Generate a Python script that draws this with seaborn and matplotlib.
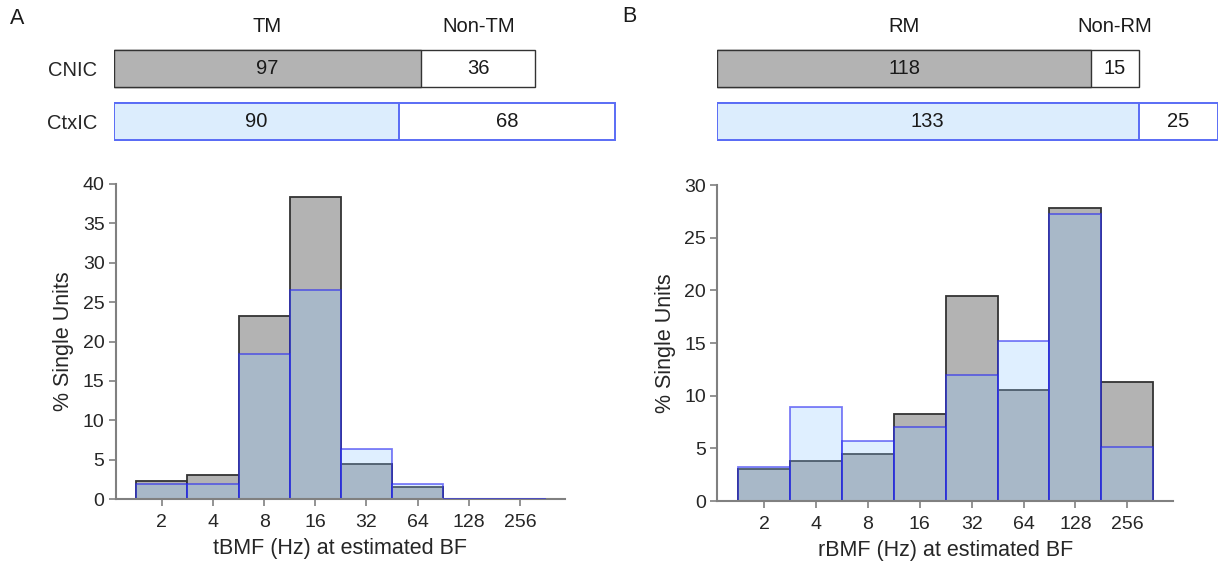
import numpy as np
import pandas as pd
import matplotlib
matplotlib.use("Agg")
import matplotlib.pyplot as plt
import seaborn as sns

# ---------------- data ----------------
bins = ["2", "4", "8", "16", "32", "64", "128", "256"]
# panel A: tBMF distribution (% of single units)
a_cnic = [2.3, 3.0, 23.3, 38.3, 4.5, 1.5, 0.0, 0.0]
a_ctx = [1.9, 1.9, 18.4, 26.6, 6.3, 1.9, 0.0, 0.0]
# panel B: rBMF distribution (% of single units)
b_cnic = [3.0, 3.8, 4.5, 8.3, 19.5, 10.5, 27.8, 11.3]
b_ctx = [3.2, 8.9, 5.7, 7.0, 12.0, 15.2, 27.2, 5.1]

groups = ["CNIC", "CtxIC"]
a_tm = [97, 90]
a_nontm = [36, 68]
b_rm = [118, 133]
b_nonrm = [15, 25]

a_headers = ["TM", "Non-TM"]
b_headers = ["RM", "Non-RM"]

# ---------------- style ----------------
sns.set_theme(style="white")
plt.rcParams["font.family"] = ["Liberation Sans", "DejaVu Sans"]
plt.rcParams["text.color"] = "#1a1a1a"

GREY_FACE = "#b3b3b3"
GREY_EDGE = "#333333"
BLUE_FACE = (0.55, 0.78, 1.0, 0.28)
BLUE_EDGE = (0.15, 0.15, 0.95, 0.60)
BLUE_TOP_FACE = "#dcedfd"
BLUE_TOP_EDGE = "#5a6cf5"
SPINE = "#808080"

W, H = 1218, 565
fig = plt.figure(figsize=(W / 100, H / 100), dpi=100)


def frac(x0, y0, x1, y1):
    return [x0 / W, 1 - y1 / H, (x1 - x0) / W, (y1 - y0) / H]


def hist_panel(rect, cnic, ctx, ymax, yticks, xlabel):
    ax = fig.add_axes(rect)
    df = pd.DataFrame({"bin": bins, "cnic": cnic, "ctx": ctx})
    sns.barplot(data=df, x="bin", y="cnic", order=bins, width=1.0,
                color=GREY_FACE, saturation=1, errorbar=None, ax=ax)
    n = len(ax.patches)
    sns.barplot(data=df, x="bin", y="ctx", order=bins, width=1.0,
                color="#8fc0ff", saturation=1, errorbar=None, ax=ax)
    for i, p in enumerate(ax.patches):
        if i < n:
            p.set_facecolor(GREY_FACE)
            p.set_edgecolor(GREY_EDGE)
            p.set_linewidth(1.3)
        else:
            p.set_facecolor(BLUE_FACE)
            p.set_edgecolor(BLUE_EDGE)
            p.set_linewidth(1.3)
            if p.get_height() == 0:
                p.set_zorder(3)
    ax.set_xlim(-0.9, 7.88)
    ax.set_ylim(0, ymax)
    ax.set_yticks(yticks)
    ax.set_xlabel(xlabel, fontsize=15.5, labelpad=5)
    ax.set_ylabel("% Single Units", fontsize=15.5, labelpad=6)
    for s in ["top", "right"]:
        ax.spines[s].set_visible(False)
    for s in ["left", "bottom"]:
        ax.spines[s].set_color(SPINE)
        ax.spines[s].set_linewidth(1.5)
    ax.tick_params(axis="both", which="major", length=5, width=1.2,
                   color=SPINE, labelsize=14, bottom=True, left=True, pad=3)
    ax.tick_params(axis="x", pad=6)
    return ax


hist_panel(frac(115.7, 184, 565, 499), a_cnic, a_ctx, 40, range(0, 41, 5),
           "tBMF (Hz) at estimated BF")
hist_panel(frac(717.3, 185, 1173, 501), b_cnic, b_ctx, 30, range(0, 31, 5),
           "rBMF (Hz) at estimated BF")

PX_PER_UNIT = 3.17


def top_panel(x_left, mod, non, headers, show_rows):
    x_right = x_left + 160 * PX_PER_UNIT
    ax = fig.add_axes(frac(x_left, 41.7, x_right, 148.3))
    totals = [m + n for m, n in zip(mod, non)]
    df = pd.DataFrame({"group": groups, "mod": mod, "total": totals})
    sns.barplot(data=df, x="total", y="group", order=groups, orient="h",
                width=0.69, color="white", saturation=1, errorbar=None, ax=ax)
    sns.barplot(data=df, x="mod", y="group", order=groups, orient="h",
                hue="group", palette=[GREY_FACE, BLUE_TOP_FACE], legend=False,
                width=0.69, saturation=1, errorbar=None, ax=ax)
    edges = [GREY_EDGE, BLUE_TOP_EDGE, GREY_EDGE, BLUE_TOP_EDGE]
    widths = [1.0, 1.4, 1.0, 1.4]
    for p, e, lw in zip(ax.patches, edges, widths):
        p.set_edgecolor(e)
        p.set_linewidth(lw)
    ax.set_xlim(0, 160)
    ax.set_ylim(1.5, -0.5)
    fs = 14.5
    for i in range(2):
        ax.text(mod[i] / 2, i, str(mod[i]), ha="center", va="center", fontsize=fs)
        ax.text(mod[i] + non[i] / 2, i, str(non[i]), ha="center", va="center",
                fontsize=fs)
    ax.text(mod[0] / 2, -0.78, headers[0], ha="center", va="center", fontsize=fs)
    ax.text(mod[0] + non[0] / 2, -0.78, headers[1], ha="center", va="center",
            fontsize=fs)
    for s in ax.spines.values():
        s.set_visible(False)
    ax.set_xticks([])
    ax.set_xlabel("")
    ax.set_ylabel("")
    if show_rows:
        ax.tick_params(axis="y", length=0, pad=12, labelsize=fs)
    else:
        ax.set_yticks([])
    ax.patch.set_alpha(0)
    return ax


top_panel(113.7, a_tm, a_nontm, a_headers, True)
top_panel(717.0, b_rm, b_nonrm, b_headers, False)

fig.text(17 / W, 1 - 18 / H, "A", fontsize=15.5, ha="center", va="center")
fig.text(629 / W, 1 - 17 / H, "B", fontsize=15.5, ha="center", va="center")

fig.savefig("out.png", dpi=100)
